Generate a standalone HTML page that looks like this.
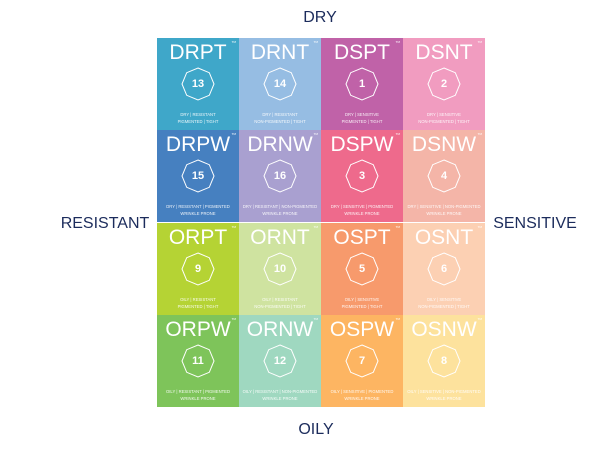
<!DOCTYPE html>
<html><head><meta charset="utf-8"><style>
body{margin:0;width:600px;height:451px;background:#fff;position:relative;overflow:hidden;font-family:"Liberation Sans",sans-serif}
.ax{position:absolute;color:#1c2c5c;font-size:16px;transform:translate(-50%,-50%);white-space:nowrap}
.cell{position:absolute;width:82px;height:92px;color:#fff;text-align:center}
.t{position:absolute;top:3px;left:0;right:0;font-size:21px;white-space:nowrap}
.cell svg{position:absolute;left:24px;top:29px}
.n{position:absolute;left:0;right:0;top:40px;font-size:11px;font-weight:bold}
.l{position:absolute;left:0;right:0;top:73px;font-size:4.2px;line-height:7px;opacity:.9;white-space:nowrap}
.tm{position:absolute;right:3px;top:2px;font-size:3px}
</style></head><body>
<div class="ax" style="left:320px;top:18px">DRY</div>
<div class="ax" style="left:316px;top:430px">OILY</div>
<div class="ax" style="left:105px;top:224px">RESISTANT</div>
<div class="ax" style="left:535px;top:224px">SENSITIVE</div>
<div id="grid"></div>
<script>
const codes=["DRPT","DRNT","DSPT","DSNT","DRPW","DRNW","DSPW","DSNW","ORPT","ORNT","OSPT","OSNT","ORPW","ORNW","OSPW","OSNW"];
const nums=[13,14,1,2,15,16,3,4,9,10,5,6,11,12,7,8];
const colors=["#3fa7c9","#96bde3","#c062a8","#f19cc0","#4680c0","#a9a0d0","#ee6a8c","#f4b5a8","#b5d334","#cfe3a0","#f79a6c","#fcd0b3","#7ec45a","#9fd8c0","#fdb562","#fde29d"];
const descs=["DRY | RESISTANT<br>PIGMENTED | TIGHT","DRY | RESISTANT<br>NON-PIGMENTED | TIGHT","DRY | SENSITIVE<br>PIGMENTED | TIGHT","DRY | SENSITIVE<br>NON-PIGMENTED | TIGHT",
"DRY | RESISTANT | PIGMENTED<br>WRINKLE PRONE","DRY | RESISTANT | NON-PIGMENTED<br>WRINKLE PRONE","DRY | SENSITIVE | PIGMENTED<br>WRINKLE PRONE","DRY | SENSITIVE | NON-PIGMENTED<br>WRINKLE PRONE",
"OILY | RESISTANT<br>PIGMENTED | TIGHT","OILY | RESISTANT<br>NON-PIGMENTED | TIGHT","OILY | SENSITIVE<br>PIGMENTED | TIGHT","OILY | SENSITIVE<br>NON-PIGMENTED | TIGHT",
"OILY | RESISTANT | PIGMENTED<br>WRINKLE PRONE","OILY | RESISTANT | NON-PIGMENTED<br>WRINKLE PRONE","OILY | SENSITIVE | PIGMENTED<br>WRINKLE PRONE","OILY | SENSITIVE | NON-PIGMENTED<br>WRINKLE PRONE"];
const g=document.getElementById('grid');
let pts=[];for(let i=0;i<8;i++){const a=-Math.PI/2+i*Math.PI/4;pts.push((17+16*Math.cos(a)).toFixed(1)+","+(17+16*Math.sin(a)).toFixed(1));}
codes.forEach((c,i)=>{
 const d=document.createElement('div');d.className='cell';
 
 
 d.style.left=(157+(i%4)*82)+'px';d.style.top=(38+Math.floor(i/4)*92.3)+'px';d.style.background=colors[i];
 d.innerHTML='<div class="t">'+c+'</div><span class="tm">TM</span><svg width="34" height="34"><polygon points="'+pts.join(' ')+'" fill="none" stroke="#fff" stroke-width="1"/></svg><div class="n">'+nums[i]+'</div><div class="l">'+descs[i]+'</div>';
 g.appendChild(d);
});
</script>
</body></html>
